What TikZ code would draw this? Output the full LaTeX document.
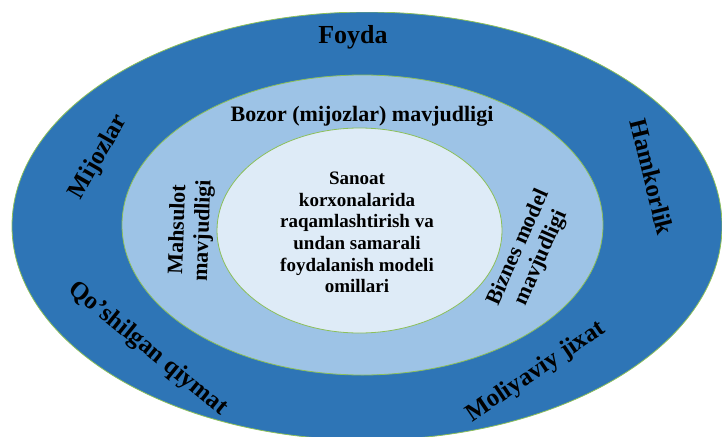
\documentclass[tikz,border=0pt]{standalone}
\usepackage{fontspec}
\setmainfont{Liberation Serif}
\usetikzlibrary{shapes.geometric}
\definecolor{outerblue}{HTML}{2E75B6}
\definecolor{midblue}{HTML}{9DC3E6}
\definecolor{innerblue}{HTML}{DEEBF7}
\definecolor{rimgreen}{HTML}{8CBF5A}
\begin{document}
\begin{tikzpicture}[x=1pt,y=-1pt,
  ring/.style={ellipse, draw=rimgreen, line width=0.8pt, inner sep=0pt, outer sep=0pt},
  biglbl/.style={font=\bfseries\fontsize{25}{28}\selectfont, inner sep=0pt, text=black},
  midlbl/.style={font=\bfseries\fontsize{22}{25}\selectfont, inner sep=0pt, text=black, align=center},
  corelbl/.style={font=\bfseries\fontsize{19}{21.6}\selectfont, inner sep=0pt, text=black, align=center}]
\useasboundingbox (0,0) rectangle (722,436);
\begin{scope}
  \clip (0,13) rectangle (722,436);
  \node[ring, fill=outerblue, minimum width=710pt, minimum height=428pt] (outer) at (367,226) {};
\end{scope}
\node[ring, fill=midblue, minimum width=481pt, minimum height=300pt] (middle) at (362.5,225) {};
\node[ring, fill=innerblue, minimum width=285pt, minimum height=205pt] (inner) at (359.5,230.5) {};
% outer ring labels
\node[biglbl, font=\bfseries\fontsize{26}{28}\selectfont, anchor=base] (foyda) at (353,44) {Foyda};
\node[biglbl, rotate=60] (mijozlar) at (99,157) {Mijozlar};
\node[biglbl, rotate=-76] (hamkorlik) at (652,177) {Hamkorlik};
\node[biglbl, rotate=-39] (qoshilgan) at (148,349) {Qo’shilgan qiymat};
\node[biglbl, rotate=34] (moliyaviy) at (536,372) {Moliyaviy jixat};
% middle ring labels
\node[midlbl, anchor=base] (bozor) at (362,121) {Bozor (mijozlar) mavjudligi};
\node[midlbl, rotate=88] (mahsulot) at (191,230) {Mahsulot\\mavjudligi};
\node[midlbl, rotate=66] (biznes) at (530,253) {Biznes model\\mavjudligi};
% core
\node[corelbl, anchor=north] (core) at (357,172) {Sanoat\\korxonalarida\\raqamlashtirish va\\undan samarali\\foydalanish modeli\\omillari};
\end{tikzpicture}
\end{document}
